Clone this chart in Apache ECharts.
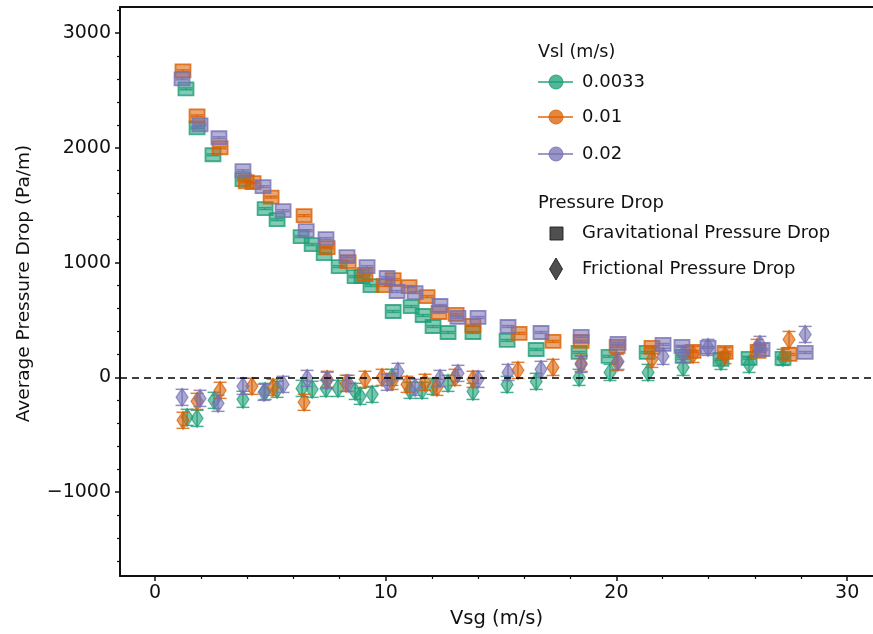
<!DOCTYPE html>
<html><head><meta charset="utf-8">
<script src="https://cdn.jsdelivr.net/npm/echarts@6/dist/echarts.min.js"></script>
<style>html,body{margin:0;padding:0;background:#fff}#c{width:873px;height:634px}</style>
</head><body><div id="c"></div>
<script>
// ---------- data ----------
const vslLabels = ['0.0033', '0.01', '0.02'];
const legendTitle1 = 'Vsl (m/s)';
const legendTitle2 = 'Pressure Drop';
const typeLabels = ['Gravitational Pressure Drop', 'Frictional Pressure Drop'];
const xAxisName = 'Vsg (m/s)';
const yAxisName = 'Average Pressure Drop (Pa/m)';

const xMajorTicks = [0, 10, 20, 30];
const xMinorTicks = [2, 4, 6, 8, 12, 14, 16, 18, 22, 24, 26, 28];
const yMajorTicks = [-1000, 0, 1000, 2000, 3000];
const yMinorTicks = [-1600, -1400, -1200, -800, -600, -400, -200, 200, 400, 600, 800, 1200, 1400, 1600, 1800, 2200, 2400, 2600, 2800, 3200];

// Vsl = 0.0033
const gravX_0033 = [1.34, 1.82, 2.51, 3.81, 4.77, 5.29, 6.33, 6.81, 7.33, 7.98, 8.67, 8.97, 9.36, 10.32, 11.10, 11.62, 12.05, 12.70, 13.78, 15.26, 16.52, 18.38, 19.68, 21.33, 22.89, 24.53, 25.75, 27.22];
const gravY_0033 = [2513, 2174, 1939, 1722, 1470, 1374, 1226, 1157, 1078, 965, 878, 878, 800, 574, 617, 539, 443, 391, 391, 322, 243, 217, 183, 217, 183, 157, 165, 165];
const fricX_0033 = [1.39, 1.82, 2.56, 3.81, 4.77, 5.29, 6.37, 6.81, 7.41, 7.93, 8.67, 8.89, 9.41, 10.27, 11.05, 11.57, 12.05, 12.70, 13.78, 15.26, 16.52, 18.38, 19.72, 21.37, 22.89, 24.53, 25.75, 27.22];
const fricY_0033 = [-348, -357, -200, -191, -122, -104, -96, -104, -96, -96, -122, -165, -148, 0, -113, -113, -78, -52, -122, -61, -35, 0, 43, 43, 87, 139, 113, 174];

// Vsl = 0.01
const gravX_001 = [1.21, 1.82, 2.82, 3.95, 4.25, 5.03, 6.46, 7.46, 8.37, 9.10, 9.93, 10.32, 11.01, 11.79, 12.31, 13.05, 13.78, 15.78, 17.25, 18.47, 20.03, 21.54, 23.32, 24.71, 26.14, 27.48];
const gravY_001 = [2670, 2278, 2000, 1704, 1696, 1570, 1409, 1130, 1009, 896, 800, 852, 791, 704, 565, 548, 452, 383, 313, 313, 270, 261, 226, 217, 226, 200];
const fricX_001 = [1.21, 1.82, 2.82, 4.20, 5.11, 6.46, 7.46, 8.28, 9.10, 9.84, 10.27, 10.92, 11.70, 12.22, 13.00, 13.78, 15.73, 17.25, 18.47, 20.03, 21.54, 23.32, 24.71, 26.10, 27.48];
const fricY_001 = [-374, -209, -113, -78, -87, -217, -17, -52, -17, 0, -35, -61, -43, -87, 0, -17, 61, 87, 122, 130, 157, 200, 190, 261, 330];

// Vsl = 0.02
const gravX_002 = [1.17, 1.95, 2.77, 3.81, 4.68, 5.55, 6.55, 7.41, 8.32, 9.19, 10.06, 10.49, 11.27, 12.35, 13.13, 14.00, 15.30, 16.73, 18.47, 20.07, 22.02, 22.84, 23.97, 26.31, 28.18];
const gravY_002 = [2600, 2200, 2087, 1800, 1661, 1452, 1278, 1209, 1052, 965, 870, 748, 739, 626, 522, 522, 443, 391, 357, 296, 287, 270, 261, 243, 217];
const fricX_002 = [1.17, 1.95, 2.73, 3.81, 4.72, 5.55, 6.59, 7.46, 8.37, 10.06, 10.53, 11.27, 12.35, 13.13, 14.00, 15.30, 16.73, 18.47, 20.07, 22.02, 22.89, 23.97, 26.22, 28.18];
const fricY_002 = [-174, -183, -226, -78, -130, -61, -9, -26, -52, -43, 52, -87, -9, 35, -17, 43, 70, 113, 139, 183, 200, 261, 287, 374];

const gravErr = 8;    // Pa/m, error bar half-height for gravitational points
const fricErr = 70;   // Pa/m, error bar half-height for frictional points

// ---------- style ----------
const colors = ['#1b9e77', '#d95f02', '#7570b3'];
const FONT = 'DejaVu Sans';
function rgba(hex, a) {
  const n = parseInt(hex.slice(1), 16);
  return 'rgba(' + (n >> 16 & 255) + ',' + (n >> 8 & 255) + ',' + (n & 255) + ',' + a + ')';
}
function pts(xs, ys, err) { return xs.map((x, i) => [x, ys[i], err]); }

function errParts(api, color, c) {
  const x = api.value(0), y = api.value(1), e = api.value(2);
  const t = api.coord([x, y + e]), b = api.coord([x, y - e]);
  const st = { stroke: rgba(color, 0.8), lineWidth: 1.5, fill: null };
  return [
    { type: 'line', shape: { x1: c[0], y1: t[1], x2: c[0], y2: b[1] }, style: st },
    { type: 'line', shape: { x1: c[0] - 6.5, y1: t[1], x2: c[0] + 6.5, y2: t[1] }, style: st },
    { type: 'line', shape: { x1: c[0] - 6.5, y1: b[1], x2: c[0] + 6.5, y2: b[1] }, style: st }
  ];
}
function squareRender(color) {
  return function (params, api) {
    const c = api.coord([api.value(0), api.value(1)]);
    return { type: 'group', children: [
      { type: 'rect', shape: { x: c[0] - 7.5, y: c[1] - 6.5, width: 15, height: 13 },
        style: { fill: rgba(color, 0.55), stroke: rgba(color, 0.8), lineWidth: 1.8 } }
    ].concat(errParts(api, color, c)) };
  };
}
function diamondRender(color) {
  return function (params, api) {
    const c = api.coord([api.value(0), api.value(1)]);
    return { type: 'group', children: errParts(api, color, c).concat([
      { type: 'polygon', shape: { points: [[c[0], c[1] - 9], [c[0] + 6, c[1]], [c[0], c[1] + 9], [c[0] - 6, c[1]]] },
        style: { fill: rgba(color, 0.6), stroke: rgba(color, 0.7), lineWidth: 1.2 } }
    ]) };
  };
}

const gravSets = [pts(gravX_0033, gravY_0033, gravErr), pts(gravX_001, gravY_001, gravErr), pts(gravX_002, gravY_002, gravErr)];
const fricSets = [pts(fricX_0033, fricY_0033, fricErr), pts(fricX_001, fricY_001, fricErr), pts(fricX_002, fricY_002, fricErr)];

const series = [];
series.push({ type: 'scatter', data: [], xAxisIndex: 0, yAxisIndex: 0, silent: true,
  markLine: { silent: true, symbol: ['none', 'none'], label: { show: false },
    lineStyle: { color: '#000', width: 1.5, type: [7, 5] }, data: [{ yAxis: 0 }] } });
for (let i = 0; i < 3; i++) {
  series.push({ type: 'custom', name: vslLabels[i] + ' grav', xAxisIndex: 0, yAxisIndex: 0,
    renderItem: squareRender(colors[i]), data: gravSets[i], encode: { x: 0, y: 1 }, clip: true });
  series.push({ type: 'custom', name: vslLabels[i] + ' fric', xAxisIndex: 0, yAxisIndex: 0,
    renderItem: diamondRender(colors[i]), data: fricSets[i], encode: { x: 0, y: 1 }, clip: true });
}

// legend drawn as graphic (two titled sections)
const legendRows = [82, 117, 154];
const LF = '18px ' + FONT;
const graphic = [
  { type: 'text', x: 538, y: 52, style: { text: legendTitle1, font: '17.5px ' + FONT, fill: '#111', verticalAlign: 'middle' } }
];
for (let i = 0; i < 3; i++) {
  graphic.push({ type: 'line', shape: { x1: 538, y1: legendRows[i], x2: 573, y2: legendRows[i] }, style: { stroke: rgba(colors[i], 0.7), lineWidth: 2 } });
  graphic.push({ type: 'circle', shape: { cx: 556, cy: legendRows[i], r: 7 }, style: { fill: rgba(colors[i], 0.75), stroke: rgba(colors[i], 0.85), lineWidth: 1 } });
  graphic.push({ type: 'text', x: 582, y: legendRows[i], style: { text: vslLabels[i], font: LF, fill: '#111', verticalAlign: 'middle' } });
}
graphic.push({ type: 'text', x: 538, y: 203, style: { text: legendTitle2, font: LF, fill: '#111', verticalAlign: 'middle' } });
graphic.push({ type: 'rect', shape: { x: 550, y: 227, width: 13, height: 13 }, style: { fill: 'rgba(60,60,60,0.9)', stroke: 'rgba(30,30,30,0.9)', lineWidth: 1 } });
graphic.push({ type: 'text', x: 582, y: 233, style: { text: typeLabels[0], font: LF, fill: '#111', verticalAlign: 'middle' } });
graphic.push({ type: 'polygon', shape: { points: [[556, 258], [562.5, 269], [556, 280], [549.5, 269]] }, style: { fill: 'rgba(60,60,60,0.9)', stroke: 'rgba(30,30,30,0.9)', lineWidth: 1 } });
graphic.push({ type: 'text', x: 582, y: 269, style: { text: typeLabels[1], font: LF, fill: '#111', verticalAlign: 'middle' } });

const XMIN = -1.52, XMAX = 31.12, YMIN = -1730, YMAX = 3226;
const hidden = { show: false };
const option = {
  animation: false,
  backgroundColor: '#fff',
  grid: { left: 120, right: 0, top: 7, bottom: 57, containLabel: false },
  xAxis: [
    { type: 'value', position: 'bottom', min: XMIN, max: XMAX,
      name: xAxisName, nameLocation: 'middle', nameGap: 33,
      nameTextStyle: { fontFamily: FONT, fontSize: 19.5, color: '#111' },
      axisLine: { onZero: false, lineStyle: { color: '#111', width: 2 } },
      axisTick: { show: true, inside: false, length: 5, customValues: xMajorTicks, lineStyle: { color: '#111', width: 1.5 } },
      axisLabel: { customValues: xMajorTicks, margin: 8, fontFamily: FONT, fontSize: 19, color: '#111' },
      splitLine: hidden },
    { type: 'value', position: 'bottom', min: XMIN, max: XMAX,
      axisLine: { show: false, onZero: false },
      axisTick: { show: true, length: 3, customValues: xMinorTicks, lineStyle: { color: '#111', width: 1.2 } },
      axisLabel: hidden, splitLine: hidden },
    { type: 'value', position: 'top', min: XMIN, max: XMAX,
      axisLine: { show: true, onZero: false, lineStyle: { color: '#111', width: 2 } },
      axisTick: hidden, axisLabel: hidden, splitLine: hidden }
  ],
  yAxis: [
    { type: 'value', position: 'left', min: YMIN, max: YMAX,
      name: yAxisName, nameLocation: 'middle', nameGap: 86,
      nameTextStyle: { fontFamily: FONT, fontSize: 18.5, color: '#111', padding: [0, 0, 0, 16] },
      axisLine: { onZero: false, lineStyle: { color: '#111', width: 2 } },
      axisTick: { show: true, length: 5, customValues: yMajorTicks, lineStyle: { color: '#111', width: 1.5 } },
      axisLabel: { customValues: yMajorTicks, margin: 9, fontFamily: FONT, fontSize: 19, color: '#111',
        formatter: v => (v < 0 ? '\u2212' + Math.abs(v) : String(v)) },
      splitLine: hidden },
    { type: 'value', position: 'left', min: YMIN, max: YMAX,
      axisLine: { show: false, onZero: false },
      axisTick: { show: true, length: 3, customValues: yMinorTicks, lineStyle: { color: '#111', width: 1.2 } },
      axisLabel: hidden, splitLine: hidden }
  ],
  graphic: graphic,
  series: series
};
const chart = echarts.init(document.getElementById('c'), null, { renderer: 'canvas' });
chart.setOption(option);
</script>
</body></html>
